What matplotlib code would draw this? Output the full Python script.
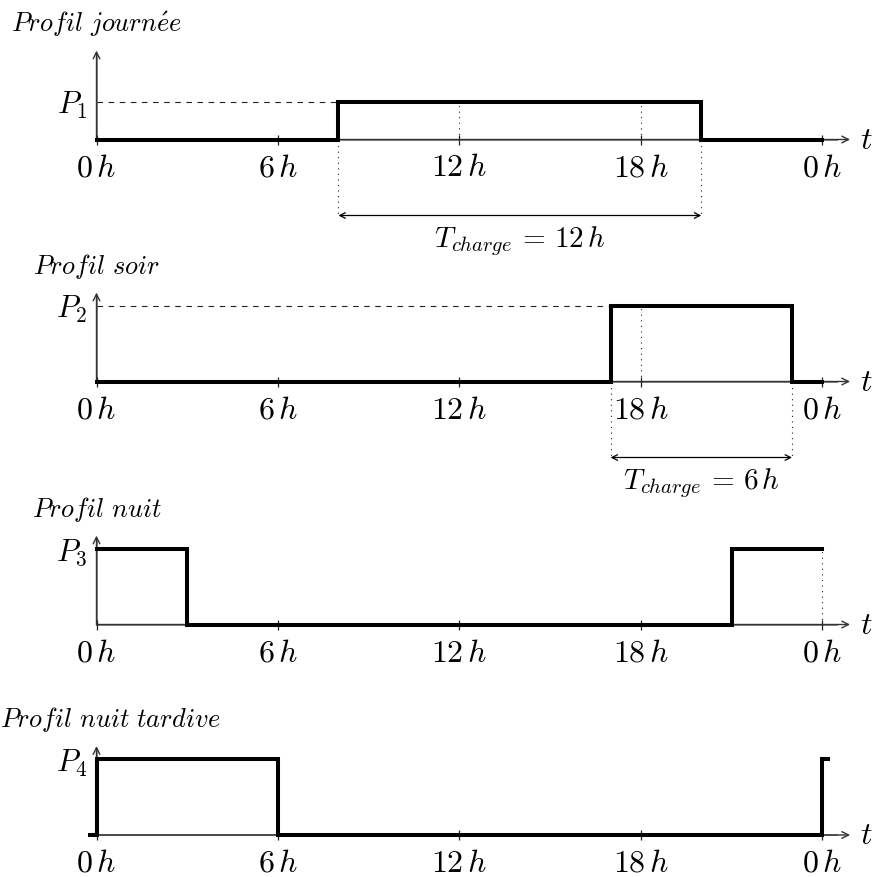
import matplotlib
matplotlib.use("Agg")
import matplotlib.pyplot as plt

plt.rcParams['mathtext.fontset'] = 'cm'

# hours on the time axis
ticks = [0, 6, 12, 18, 24]
tick_labels = [r'$0\,h$', r'$6\,h$', r'$12\,h$', r'$18\,h$', r'$0\,h$']

titles = [r'$\mathit{Profil\ journ\acute{e}e}$',
          r'$\mathit{Profil\ soir}$',
          r'$\mathit{Profil\ nuit}$',
          r'$\mathit{Profil\ nuit\ tardive}$']
power_labels = [r'$P_1$', r'$P_2$', r'$P_3$', r'$P_4$']
power_levels = [1, 2, 2, 2]

# step profiles (time in h, power)
t1 = [0, 8, 8, 20, 20, 24]
p1 = [0, 0, 1, 1, 0, 0]
t2 = [0, 17, 17, 23, 23, 24]
p2 = [0, 0, 2, 2, 0, 0]
t3 = [0, 3, 3, 21, 21, 24]
p3 = [2, 2, 0, 0, 2, 2]
t4 = [-0.2, 0, 0, 6, 6, 24, 24, 24.2]
p4 = [0, 0, 2, 2, 0, 0, 2, 2]
profiles = [(t1, p1), (t2, p2), (t3, p3), (t4, p4)]

# charging windows (start, end, label) or None
windows = [(8, 20, r'$T_{charge}\,=\,12\,h$'),
           (17, 23, r'$T_{charge}\,=\,6\,h$'),
           None, None]
# dotted guides from baseline up to the power level
guides = [[12, 18], [18], [24], []]
# dashed line from the y axis to the start of the plateau
dashed_to = [8, 17, None, None]

W, H = 875, 878
X0 = 96.5          # px of 0 h
SX = 30.24         # px per hour
SY = 38.0          # px per power unit
baselines = [140.5, 382.5, 625.5, 836.0]
title_shift = [0, 0, 0, 14]   # px, keeps the long title inside the picture
FS = 23

fig = plt.figure(figsize=(W / 100, H / 100), dpi=100)
axis_col = '#808080'

for i in range(4):
    ax = fig.add_axes([0, 0, 1, 1])
    ax.set_facecolor('none')
    ax.axis('off')
    b = baselines[i]
    ax.set_xlim(-X0 / SX, (W - X0) / SX)
    ax.set_ylim(-(H - b) / SY, b / SY)
    P = power_levels[i]

    # axes with arrows
    ax.annotate('', xy=(24.92, 0), xytext=(0, 0),
                arrowprops=dict(arrowstyle='->', color='#333333', lw=1.0,
                                shrinkA=0, shrinkB=0, mutation_scale=12))
    ax.plot([0, 24.5], [0, 0], color=axis_col, lw=1.3, zorder=1)
    ax.annotate('', xy=(0, 2.34), xytext=(0, 0),
                arrowprops=dict(arrowstyle='->', color='#333333', lw=1.0,
                                shrinkA=0, shrinkB=0, mutation_scale=12))
    ax.plot([0, 0], [0, 2.2], color=axis_col, lw=1.3, zorder=1)
    ax.plot(ticks, [0] * len(ticks), ls='none', marker='|', ms=7, mew=0.9,
            color='#222222', zorder=2)

    for tk, lab in zip(ticks, tick_labels):
        ax.annotate(lab, (tk, 0), xytext=(0, -36), textcoords='offset pixels',
                    ha='center', va='baseline', fontsize=FS)
    ax.annotate(r'$t$', (24.92, 0), xytext=(10, 0), textcoords='offset pixels',
                ha='left', va='center', fontsize=FS)
    ax.annotate(power_labels[i], (0, P), xytext=(-9, -3), textcoords='offset pixels',
                ha='right', va='center', fontsize=22)
    ax.annotate(titles[i], (0, 0), xytext=(title_shift[i], 116),
                textcoords='offset pixels', ha='center', va='center', fontsize=19)

    if dashed_to[i] is not None:
        ax.plot([0, dashed_to[i]], [P, P], color='#222222', lw=0.8,
                ls=(0, (5, 5)), zorder=2)
    for g in guides[i]:
        ax.plot([g, g], [0, P], color='#222222', lw=0.8, ls=(0, (1, 4)), zorder=2)

    if windows[i] is not None:
        a, e, lab = windows[i]
        for g in (a, e):
            ax.plot([g, g], [0, -2], color='#222222', lw=0.8, ls=(0, (1, 4)), zorder=2)
        ax.annotate('', xy=(e, -2), xytext=(a, -2),
                    arrowprops=dict(arrowstyle='<->', color='black', lw=0.9,
                                    shrinkA=0, shrinkB=0, mutation_scale=10))
        ax.annotate(lab, ((a + e) / 2, -2), xytext=(0, -8), textcoords='offset pixels',
                    ha='center', va='top', fontsize=21)

    t, p = profiles[i]
    ax.plot(t, p, color='black', lw=2.9, solid_joinstyle='miter', zorder=3)

fig.savefig('out.png', dpi=100)
